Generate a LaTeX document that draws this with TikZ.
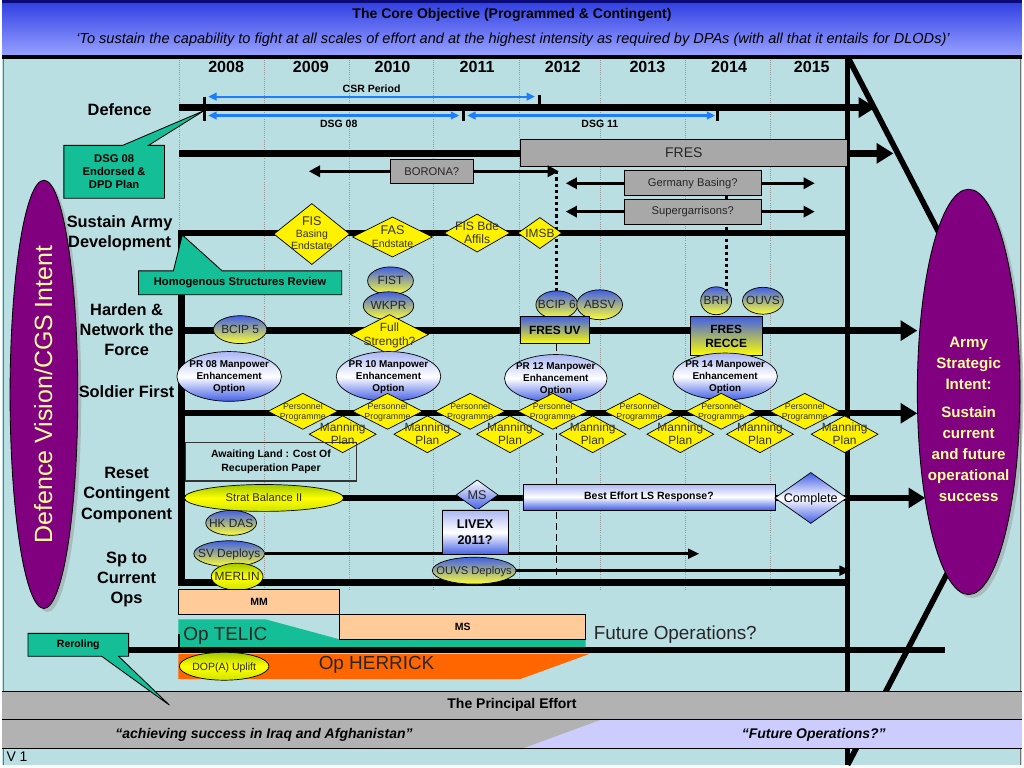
\documentclass[tikz,border=0pt]{standalone}
\usepackage{fontspec}
\setmainfont{Liberation Sans}
\usetikzlibrary{shapes, arrows, positioning, shadows, calc, shapes.geometric, arrows.meta}

\definecolor{skybg}{RGB}{185,223,227}
\definecolor{hdrtop}{RGB}{45,60,225}
\definecolor{hdrbot}{RGB}{150,160,255}
\definecolor{hdrnavy}{RGB}{10,10,120}
\definecolor{callteal}{RGB}{20,190,150}
\definecolor{boxgrey}{RGB}{168,168,168}
\definecolor{ellblue}{RGB}{65,95,230}
\definecolor{ygreen}{RGB}{160,200,0}
\definecolor{arrblue}{RGB}{30,125,255}
\definecolor{peach}{RGB}{255,204,153}
\definecolor{herrick}{RGB}{255,102,0}
\definecolor{purp}{RGB}{128,0,128}
\definecolor{paleyel}{RGB}{255,255,153}
\definecolor{effortgrey}{RGB}{178,178,178}
\definecolor{lavender}{RGB}{204,204,255}

% text laid over a shape without making the shape grow
\newcommand{\ontop}[1]{\makebox[0pt]{\smash{\raisebox{-0.35em}{\begin{tabular}{@{}c@{}}#1\end{tabular}}}}}

\begin{document}
\begin{tikzpicture}[x=0.025cm, y=-0.025cm,
    every node/.style={inner sep=0pt, outer sep=0pt},
    sz/.style 2 args={minimum width=#1*0.025cm, minimum height=#2*0.025cm},
    rowlab/.style={font=\fontsize{11.7}{14.5}\selectfont\bfseries, align=center},
    yearlab/.style={font=\fontsize{11.5}{13}\selectfont\bfseries},
    periodlab/.style={font=\fontsize{7.5}{9}\selectfont\bfseries, text=black},
    gridline/.style={black!40, densely dotted, line width=0.5pt},
    spine/.style={line width=4.5pt, line join=miter},
    spinearrow/.style={line width=4.5pt, -{Triangle[length=12pt, width=14pt]}},
    edgeline/.style={line width=4pt},
    period/.style={arrblue, line width=1.5pt, {Triangle[length=6pt, width=5.5pt]}-{Triangle[length=6pt, width=5.5pt]}},
    sidearrow/.style={line width=2pt, -{Triangle[length=8pt, width=8pt]}},
    deployarrow/.style={line width=1.8pt, -{Triangle[length=8pt, width=7pt]}},
    fresdots/.style={line width=2.2pt, dash pattern=on 2.2pt off 2.2pt},
    uvdash/.style={line width=0.8pt, dash pattern=on 5pt off 3pt},
    calloutshape/.style={draw=black, fill=callteal, line width=0.6pt},
    calltext/.style={font=\fontsize{8}{9.5}\selectfont\bfseries, align=center},
    greybox/.style={rectangle, draw=black, fill=boxgrey, line width=0.6pt, text=black!85},
    ydia/.style={diamond, draw=black, fill=yellow, line width=0.5pt, text=black!80},
    ppdia/.style={ydia, sz={70}{36}, font=\fontsize{6.3}{7.2}\selectfont},
    mpdia/.style={ydia, sz={67}{37}, font=\fontsize{8.5}{9.5}\selectfont},
    byell/.style={ellipse, draw=black, line width=0.5pt, top color=ellblue, bottom color=yellow!80!white, font=\fontsize{8.5}{10}\selectfont, text=black!85},
    prell/.style={ellipse, draw=black, line width=0.5pt, top color=ellblue!45, bottom color=ellblue, middle color=white, font=\fontsize{7.1}{8.6}\selectfont\bfseries},
    gyell/.style={ellipse, draw=black, line width=0.5pt, top color=ygreen, bottom color=ygreen!50!yellow, middle color=yellow, font=\fontsize{8}{9.5}\selectfont, text=black!85},
    bwbox/.style={rectangle, draw=black, line width=0.5pt, top color=ellblue!45, bottom color=ellblue, middle color=white, font=\fontsize{7.5}{9}\selectfont\bfseries},
    bybox/.style={rectangle, draw=black, line width=0.5pt, top color=ellblue, bottom color=yellow, font=\fontsize{8.5}{10}\selectfont\bfseries},
    bwdia/.style={diamond, draw=black, line width=0.5pt, top color=white, bottom color=ellblue, font=\fontsize{9}{10}\selectfont, text=black!85},
    peachbox/.style={rectangle, draw=black, line width=0.5pt, fill=peach, font=\fontsize{7.5}{9}\selectfont\bfseries},
    optext/.style={font=\fontsize{13.5}{15}\selectfont, text=black!85},
    purpell/.style={ellipse, draw=black, line width=0.6pt, fill=purp, text=paleyel, drop shadow={shadow xshift=2.5pt, shadow yshift=-2.5pt, fill=black!40}},
]

  % Background and header
  \fill[skybg] (0,0) rectangle (1024,768);
  \draw[black!55, line width=1pt] (1.5,57) -- (1.5,768) (1022.5,57) -- (1022.5,768);
  \shade[top color=hdrtop, bottom color=hdrbot] (0,0) rectangle (1024,55);
  \fill[hdrnavy] (0,0) rectangle (1024,3);
  \draw[line width=3pt] (0,57) -- (1024,57);
  \node[font=\fontsize{10}{11}\selectfont\bfseries] (objective) at (512,15) {The Core Objective (Programmed \& Contingent)};
  \node[font=\fontsize{10.4}{11}\selectfont\itshape] (aim) at (513,40) {‘To sustain the capability to fight at all scales of effort and at the highest intensity as required by DPAs (with all that it entails for DLODs)’};

  % Years and grid
  \foreach \yr/\xx in {2008/225, 2009/310, 2010/392, 2011/477, 2012/563, 2013/648, 2014/730, 2015/813}
    \node[yearlab] (yr\yr) at (\xx,67) {\yr};
  \foreach \gx in {178, 263, 349, 433, 519, 601, 686, 771}
    \draw[gridline] (\gx,60) -- (\gx,592);

  % Outer frame
  \draw[edgeline] (849,57) -- (849,768);
  \draw[edgeline] (849,57) -- (944,240);
  \draw[edgeline] (965,545) -- (849,768);

  % Defence
  \node[rowlab] (defence) at (118,110) {Defence};
  \coordinate (def-s) at (178,108);
  \coordinate (def-e) at (877,108);
  \draw[spinearrow] (def-s) -- (def-e);
  \draw[line width=2pt] (203,97) -- (203,122);
  \draw[line width=2pt] (540,95) -- (540,108);
  \draw[line width=2pt] (463,108) -- (463,122);
  \draw[line width=2pt] (718,108) -- (718,122);
  \coordinate (csr-s) at (207,97);
  \coordinate (csr-e) at (535,97);
  \draw[period] (csr-s) -- node[periodlab, above=2.5pt] (csr) {CSR Period} (csr-e);
  \coordinate (dsg8-s) at (207,116);
  \coordinate (dsg8-e) at (459,116);
  \draw[period] (dsg8-s) -- node[periodlab, below=3.5pt, pos=0.52] (dsg8) {DSG 08} (dsg8-e);
  \coordinate (dsg11-s) at (467,116);
  \coordinate (dsg11-e) at (716,116);
  \draw[period] (dsg11-s) -- node[periodlab, below=3.5pt, pos=0.535] (dsg11) {DSG 11} (dsg11-e);

  % FRES line
  \coordinate (fres-s) at (178,154);
  \coordinate (fres-e) at (895,154);
  \draw[spinearrow] (fres-s) -- (fres-e);

  % Spine of the programme
  \coordinate (sus-e) at (849,234);
  \coordinate (sus-s) at (180,234);
  \coordinate (ops-s) at (180,585);
  \coordinate (ops-e) at (849,585);
  \draw[spine] (sus-e) -- (sus-s) -- (ops-s) -- (ops-e);

  % FRES links down to the vehicles
  \coordinate (uv-top) at (557,172);
  \coordinate (uv-bot) at (557,293);
  \coordinate (recce-top) at (727,197);
  \coordinate (recce-bot) at (727,292);
  \draw[fresdots] (uv-top) -- (uv-bot);
  \draw[fresdots] (recce-top) -- (recce-bot);

  % Row arrows
  \coordinate (har-s) at (180,332);
  \coordinate (har-e) at (919,332);
  \coordinate (sol-s) at (180,415);
  \coordinate (sol-e) at (919,415);
  \coordinate (res-s) at (180,500);
  \coordinate (res-e) at (927,500);
  \draw[spinearrow] (har-s) -- (har-e);
  \draw[spinearrow] (sol-s) -- (sol-e);
  \draw[spinearrow] (res-s) -- (res-e);

  % Intent ellipses
  \node[purpell, sz={430}{68}, rotate=90, font=\fontsize{17.8}{20}\selectfont] (cgs) at (42,396) {\ontop{Defence Vision/CGS Intent}};
  \node[purpell, sz={103}{407}] (intent) at (970.5,393.5) {};
  \node[font=\fontsize{10.8}{15}\selectfont\bfseries, text=paleyel, align=center] (intenttext) at (970.5,421) {Army\\Strategic\\Intent:\\[5.5pt]Sustain\\current\\and future\\operational\\success};

  % Row labels
  \node[rowlab] (sustain) at (118,234) {Sustain Army\\Development};
  \node[rowlab] (harden) at (125,331) {Harden \&\\Network the\\Force};
  \node[rowlab] (soldier) at (125,393) {Soldier First};
  \node[rowlab] (reset) at (125,497) {Reset\\Contingent\\Component};
  \node[rowlab] (spops) at (125,582) {Sp to\\Current\\Ops};

  % Callouts
  \draw[calloutshape] (62,146) -- (121,146) -- (203,111) -- (147,146) -- (163,146) -- (163,199) -- (62,199) -- cycle;
  \node[calltext] (dsgplan) at (112.5,172.5) {DSG 08\\Endorsed \&\\DPD Plan};
  \draw[calloutshape] (137,272) -- (172,272) -- (181,236) -- (221,272) -- (341,272) -- (341,296) -- (137,296) -- cycle;
  \node[calltext] (homog) at (239,284) {Homogenous Structures Review};

  % FRES and basing
  \node[greybox, sz={329}{28}, font=\fontsize{10}{12}\selectfont] (fres) at (684.5,153.5) {FRES};
  \node[greybox, sz={83}{24}, font=\fontsize{8}{10}\selectfont] (borona) at (431.5,172) {BORONA?};
  \node[greybox, sz={137}{25}, font=\fontsize{8}{10}\selectfont] (germany) at (693.5,184) {Germany Basing?};
  \node[greybox, sz={137}{25}, font=\fontsize{8}{10}\selectfont] (supergar) at (693.5,212.5) {Supergarrisons?};
  \coordinate (borona-l) at (308,172);
  \coordinate (borona-r) at (559,172);
  \coordinate (germany-l) at (566,184);
  \coordinate (germany-r) at (816,184);
  \coordinate (supergar-l) at (566,212.5);
  \coordinate (supergar-r) at (816,212.5);
  \draw[sidearrow] (borona) -- (borona-l);
  \draw[sidearrow] (borona) -- (borona-r);
  \draw[sidearrow] (germany) -- (germany-l);
  \draw[sidearrow] (germany) -- (germany-r);
  \draw[sidearrow] (supergar) -- (supergar-l);
  \draw[sidearrow] (supergar) -- (supergar-r);

  % Sustain Army Development
  \node[ydia, sz={76}{61}, font=\fontsize{7.5}{8.5}\selectfont] (fisbase) at (311,235) {\ontop{{\fontsize{9}{9}\selectfont FIS}\\Basing\\Endstate}};
  \node[ydia, sz={80}{40}, font=\fontsize{7.5}{9}\selectfont] (fas) at (392,238) {\ontop{{\fontsize{9}{9}\selectfont FAS}\\Endstate}};
  \node[ydia, sz={66}{38}, font=\fontsize{8.7}{9.7}\selectfont] (fisbde) at (477,234) {\ontop{FIS Bde\\Affils}};
  \node[ydia, sz={44}{31}, font=\fontsize{8.5}{9.5}\selectfont] (imsb) at (540,234) {\ontop{IMSB}};

  % Harden and Network the Force
  \node[byell, sz={45}{28}] (bcip5) at (239,331) {BCIP 5};
  \node[byell, sz={46}{28}] (fist) at (390,282) {FIST};
  \node[byell, sz={50}{28}] (wkpr) at (388,307) {WKPR};
  \node[ydia, sz={78}{40}, font=\fontsize{8.5}{9.5}\selectfont] (fullstr) at (389,336) {\ontop{Full\\Strength?}};
  \node[byell, sz={42}{28}] (bcip6) at (557,306) {\ontop{BCIP 6}};
  \node[byell, sz={46}{30}] (absv) at (600,306) {\ontop{ABSV}};
  \node[byell, sz={31}{28}] (brh) at (717,302) {\ontop{BRH}};
  \node[byell, sz={41}{27}] (ouvs) at (764,302) {\ontop{OUVS}};
  \node[bybox, sz={70}{27}] (fresuv) at (555,331.5) {FRES UV};
  \draw[uvdash] (fresuv.south -| uv-top) -- (ops-s -| uv-top);
  \node[bybox, sz={72}{39}, align=center] (recce) at (727,337.5) {FRES\\RECCE};

  % Soldier First
  \node[prell, sz={105}{50}] (pr08) at (228,378) {\ontop{PR 08 Manpower\\Enhancement\\Option}};
  \node[prell, sz={105}{50}] (pr10) at (388,378) {\ontop{PR 10 Manpower\\Enhancement\\Option}};
  \node[prell, sz={103}{48}] (pr12) at (556,380) {\ontop{PR 12 Manpower\\Enhancement\\Option}};
  \node[prell, sz={105}{47}] (pr14) at (726,378) {\ontop{PR 14 Manpower\\Enhancement\\Option}};
  \foreach \i/\ppx/\mpx in {1/302/342, 2/387/427, 3/470/510, 4/553/593, 5/640/681, 6/722/761, 7/806/846} {
    \node[ppdia] (pp\i) at (\ppx,413) {\ontop{Personnel\\Programme}};
    \node[mpdia] (mp\i) at (\mpx,436) {\ontop{Manning\\Plan}};
  }

  % Reset Contingent Component
  \node[rectangle, draw=black!80, line width=0.8pt, sz={172}{39}, font=\fontsize{7.5}{10}\selectfont\bfseries, align=center] (await) at (270,463.5) {Awaiting Land : Cost Of\\Recuperation Paper};
  \node[gyell, sz={160}{27}] (strat) at (263,500) {Strat Balance II};
  \node[byell, sz={51}{25}] (hkdas) at (230,525) {\ontop{HK DAS}};
  \node[bwdia, sz={42}{30}] (msdia) at (477,497) {\ontop{MS}};
  \node[bwbox, sz={253}{26}] (besteffort) at (649.5,499) {Best Effort LS Response?};
  \node[diamond, draw=black, line width=0.5pt, top color=ellblue, bottom color=ellblue, middle color=white, sz={72}{51}, font=\fontsize{9}{10}\selectfont] (complete) at (812,500) {\ontop{Complete}};

  % Sp to Current Ops
  \node[byell, sz={71}{26}] (svdep) at (228,556) {\ontop{SV Deploys}};
  \coordinate (svdep-e) at (700,556);
  \draw[deployarrow] (svdep) -- (svdep-e);
  \node[gyell, sz={52}{27}, font=\fontsize{8.5}{10}\selectfont] (merlin) at (236,579) {\ontop{MERLIN}};
  \node[bwbox, sz={66}{45}, font=\fontsize{9}{11}\selectfont\bfseries, align=center] (livex) at (475,534.5) {LIVEX\\2011?};
  \node[byell, sz={84}{27}, font=\fontsize{8}{10}\selectfont] (ouvsdep) at (474,573) {\ontop{OUVS Deploys}};
  \coordinate (ouvsdep-e) at (852,573);
  \draw[deployarrow] (ouvsdep) -- (ouvsdep-e);

  % Operations
  \fill[callteal] (177,622) -- (265,622) -- (339,642) -- (586,642) -- (586,651) -- (177,651) -- cycle;
  \node[peachbox, sz={162}{25}] (mm) at (258,604) {MM};
  \node[peachbox, sz={247}{25}] (msbox) at (462.5,629.5) {MS};
  \node[optext, anchor=west] (telic) at (182,638) {Op TELIC};
  \coordinate (opsline-s) at (127,653);
  \coordinate (opsline-e) at (947,653);
  \draw[line width=4.5pt] (opsline-s) -- (opsline-e);
  \draw[line width=1.5pt] (178,637) -- (178,653);
  \fill[herrick] (177,656.5) -- (590,656.5) -- (520,682) -- (177,682) -- cycle;
  \node[optext] (herrickop) at (376,668) {Op HERRICK};
  \node[gyell, sz={90}{28}, font=\fontsize{7.5}{9}\selectfont] (dopa) at (223,669) {\ontop{DOP(A) Uplift}};
  \node[optext] (futureops) at (676,637) {Future Operations?};

  % Principal effort bands
  \fill[effortgrey] (0,694) rectangle (1024,722);
  \fill[effortgrey] (0,723) -- (601,723) -- (522,752) -- (0,752) -- cycle;
  \fill[lavender] (601,723) -- (1024,723) -- (1024,752) -- (522,752) -- cycle;
  \draw[line width=0.8pt] (0,694) -- (1024,694) (0,722.5) -- (1024,722.5) (0,752) -- (1024,752);
  \node[font=\fontsize{10}{11}\selectfont\bfseries] (effort) at (512,708) {The Principal Effort};
  \node[font=\fontsize{10}{11}\selectfont\bfseries\itshape] (iraq) at (263,737.5) {“achieving success in Iraq and Afghanistan”};
  \node[font=\fontsize{10}{11}\selectfont\bfseries\itshape] (futurequote) at (815,737.5) {“Future Operations?”};
  \node[font=\fontsize{10}{11}\selectfont] (version) at (15,760) {V 1};

  % Reroling callout
  \draw[calloutshape] (26,636) -- (127,636) -- (127,659) -- (117,659) -- (168,708) -- (100,659) -- (26,659) -- cycle;
  \node[calltext, font=\fontsize{7.5}{9}\selectfont\bfseries] (reroling) at (76.5,647.5) {Reroling};
\end{tikzpicture}
\end{document}
